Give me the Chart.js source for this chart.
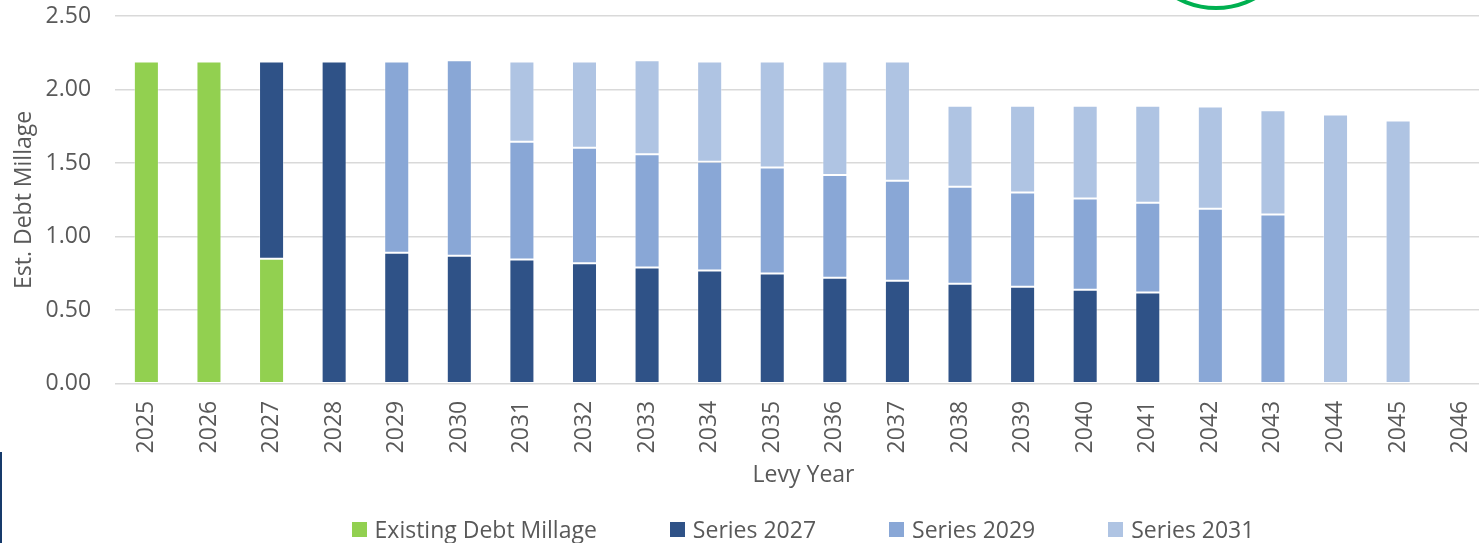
<!DOCTYPE html>
<html>
<head>
<meta charset="utf-8">
<script src="https://cdn.jsdelivr.net/npm/chart.js@4/dist/chart.umd.min.js"></script>
<style>
  html, body { margin: 0; padding: 0; background: #fff; overflow: hidden; width: 1479px; height: 543px; }
  #wrap { position: absolute; left: 0; top: 0; width: 1606px; height: 543px; }
  #ring { position: absolute; left: 1133px; top: -156px; width: 166px; height: 166px; box-sizing: border-box; border: 4px solid #00b050; border-radius: 50%; }
  #stripe { position: absolute; left: 0; top: 452px; width: 2px; height: 91px; background: #163a6b; }
  #legend { position: absolute; left: 0; top: 514px; width: 1606px; height: 30px; display: flex; justify-content: center; align-items: center; gap: 73px;
            font-family: "Open Sans", "DejaVu Sans", sans-serif; font-size: 23px; color: #595959; white-space: nowrap; }
  #legend .item { display: flex; align-items: center; }
  #legend .box { width: 15px; height: 15px; margin-right: 8px; }
</style>
</head>
<body>
<div id="wrap"><canvas id="c"></canvas></div>
<div id="legend"></div>
<div id="ring"></div>
<div id="stripe"></div>
<script>
const categories = ['2025','2026','2027','2028','2029','2030','2031','2032','2033','2034','2035','2036','2037','2038','2039','2040','2041','2042','2043','2044','2045','2046'];
const existingDebt = [2.19, 2.19, 0.85, null, null, null, null, null, null, null, null, null, null, null, null, null, null, null, null, null, null, null];
const series2027   = [null, null, 1.34, 2.19, 0.89, 0.87, 0.845, 0.82, 0.79, 0.77, 0.75, 0.72, 0.70, 0.68, 0.66, 0.64, 0.62, null, null, null, null, null];
const series2029   = [null, null, null, null, 1.30, 1.33, 0.80, 0.785, 0.77, 0.74, 0.72, 0.70, 0.68, 0.66, 0.64, 0.62, 0.61, 1.19, 1.15, null, null, null];
const series2031   = [null, null, null, null, null, null, 0.545, 0.585, 0.64, 0.68, 0.72, 0.77, 0.81, 0.55, 0.59, 0.63, 0.66, 0.695, 0.71, 1.83, 1.79, null];
const yTicks = [0, 0.5, 1.0, 1.5, 2.0, 2.5];

const txt = '#595959';
const fam = '"Open Sans", "DejaVu Sans", sans-serif';
const FS = 23;

function ds(label, data, color) {
  return { label, data, backgroundColor: color, borderColor: 'rgba(255,255,255,0.35)', borderWidth: 1, borderSkipped: false,
           barPercentage: 0.4, categoryPercentage: 1.0 };
}

const chart = new Chart(document.getElementById('c'), {
  type: 'bar',
  data: {
    labels: categories,
    datasets: [
      ds('Existing Debt Millage', existingDebt, '#92d050'),
      ds('Series 2027', series2027, '#2f5287'),
      ds('Series 2029', series2029, '#89a7d6'),
      ds('Series 2031', series2031, '#afc4e3')
    ]
  },
  options: {
    responsive: true,
    maintainAspectRatio: false,
    animation: false,
    layout: { padding: { left: 11, right: 114, top: 16, bottom: 46 } },
    plugins: {
      tooltip: { enabled: false },
      legend: { display: false }
    },
    scales: {
      x: {
        stacked: true,
        grid: { display: false, drawTicks: false },
        border: { display: false },
        afterFit: (axis) => { axis.height -= 9; },
        ticks: { color: txt, font: { family: fam, size: FS }, minRotation: 90, maxRotation: 90, padding: 17, autoSkip: false },
        title: { display: true, text: 'Levy Year', color: txt, font: { family: fam, size: FS }, padding: { top: 0, bottom: 8 } }
      },
      y: {
        stacked: true,
        min: 0, max: 2.5,
        afterBuildTicks: (axis) => { axis.ticks = yTicks.map(v => ({ value: v })); },
        afterFit: (axis) => { axis.width -= 23; axis.paddingTop = 0; },
        grid: { color: '#d9d9d9', lineWidth: 1.5, drawTicks: false },
        border: { display: false },
        ticks: { color: txt, font: { family: fam, size: FS }, padding: 24, callback: (v) => Number(v).toFixed(2) },
        title: { display: true, text: 'Est. Debt Millage', color: txt, font: { family: fam, size: FS }, padding: { top: 0, bottom: 6 } }
      }
    }
  }
});

const leg = document.getElementById('legend');
chart.data.datasets.forEach(d => {
  const it = document.createElement('div'); it.className = 'item';
  const b = document.createElement('span'); b.className = 'box'; b.style.background = d.backgroundColor;
  const t = document.createElement('span'); t.textContent = d.label;
  it.appendChild(b); it.appendChild(t); leg.appendChild(it);
});
</script>
</body>
</html>
